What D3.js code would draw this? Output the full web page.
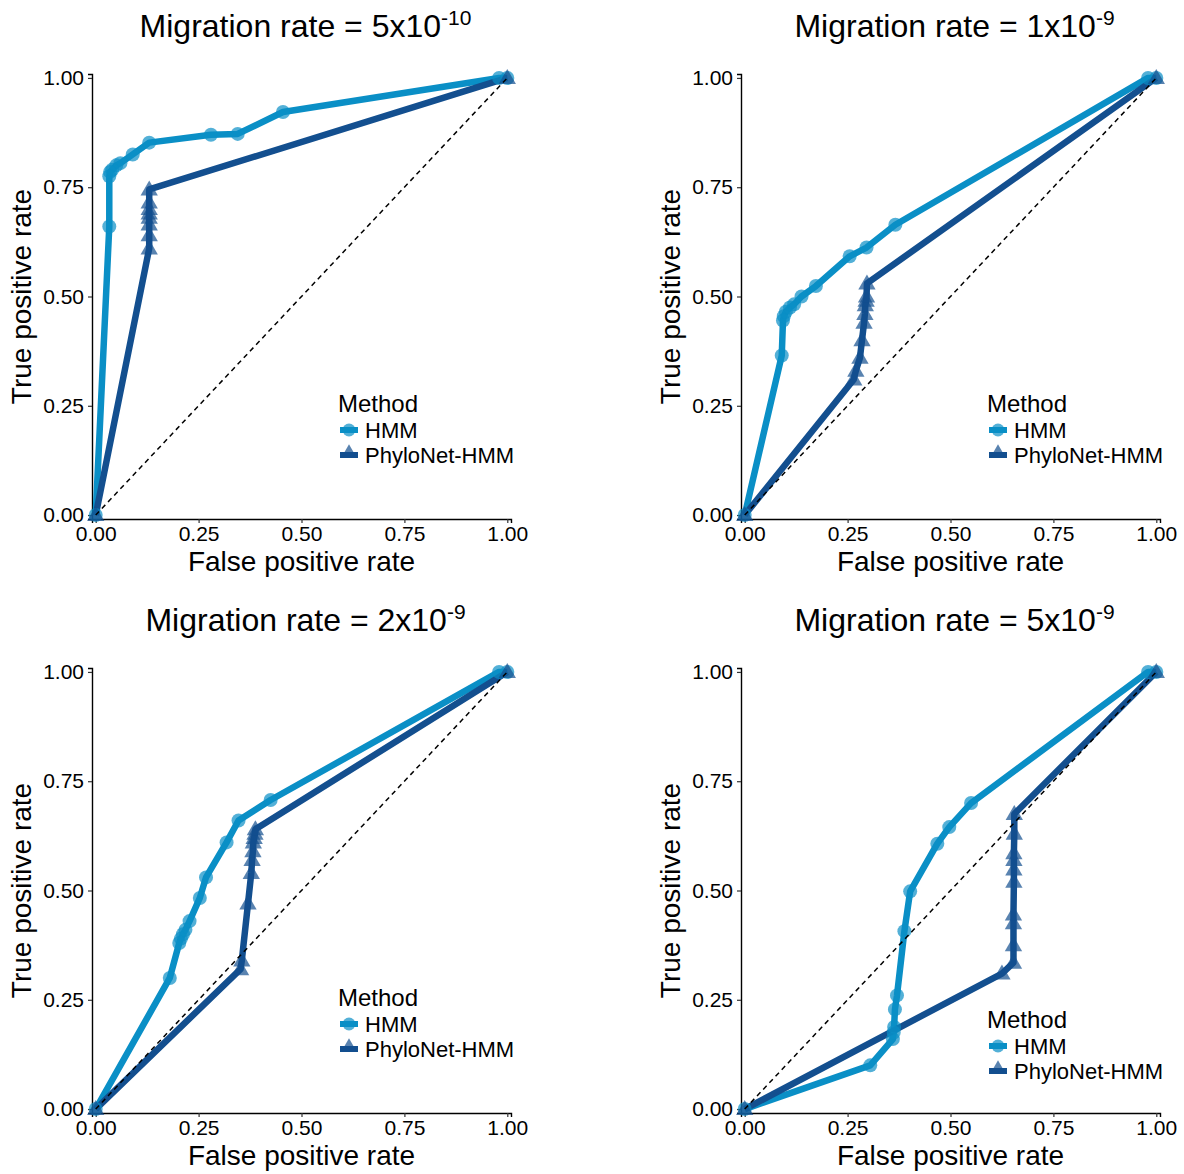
<!DOCTYPE html>
<html>
<head>
<meta charset="utf-8">
<script src="https://cdn.jsdelivr.net/npm/d3@7"></script>
<style>
  body { margin: 0; background: #fff; }
  svg text { font-family: "Liberation Sans", Arial, sans-serif; fill: #000; }
</style>
</head>
<body>
<div id="chart"></div>
<script>
// migration rate labels
const rateBase = ["5x10", "1x10", "2x10", "5x10"];
const rateExp = ["-10", "-9", "-9", "-9"];
const methods = ["HMM", "PhyloNet-HMM"];
const ticks = [0, 0.25, 0.5, 0.75, 1];

// 5x10^-10
const hmmFpr1 = [0, 0.033, 0.033, 0.035, 0.04, 0.05, 0.06, 0.09, 0.13, 0.28, 0.345, 0.455, 0.98, 1];
const hmmTpr1 = [0, 0.66, 0.775, 0.785, 0.79, 0.80, 0.805, 0.825, 0.852, 0.87, 0.872, 0.922, 1, 1];
const phyFpr1 = [0, 0.13, 0.13, 0.13, 0.13, 0.13, 0.13, 0.13, 0.13, 1];
const phyTpr1 = [0, 0.61, 0.64, 0.665, 0.68, 0.69, 0.70, 0.715, 0.745, 1];

// 1x10^-9
const hmmFpr2 = [0, 0.09, 0.093, 0.095, 0.10, 0.11, 0.12, 0.138, 0.173, 0.255, 0.296, 0.366, 0.98, 1];
const hmmTpr2 = [0, 0.365, 0.445, 0.455, 0.465, 0.475, 0.482, 0.50, 0.524, 0.592, 0.612, 0.664, 1, 1];
const phyFpr2 = [0, 0.265, 0.27, 0.28, 0.285, 0.29, 0.292, 0.293, 0.295, 0.296, 0.297, 1];
const phyTpr2 = [0, 0.31, 0.33, 0.36, 0.40, 0.44, 0.46, 0.48, 0.49, 0.50, 0.53, 1];

// 2x10^-9
const hmmFpr3 = [0, 0.18, 0.203, 0.207, 0.212, 0.218, 0.228, 0.253, 0.268, 0.318, 0.347, 0.425, 0.98, 1];
const hmmTpr3 = [0, 0.30, 0.38, 0.39, 0.40, 0.41, 0.43, 0.483, 0.53, 0.61, 0.66, 0.707, 1, 1];
const phyFpr3 = [0, 0.352, 0.355, 0.37, 0.378, 0.38, 0.382, 0.383, 0.385, 0.387, 0.388, 1];
const phyTpr3 = [0, 0.32, 0.34, 0.47, 0.54, 0.57, 0.59, 0.61, 0.62, 0.63, 0.64, 1];

// 5x10^-9
const hmmFpr4 = [0, 0.305, 0.36, 0.362, 0.363, 0.365, 0.37, 0.388, 0.402, 0.468, 0.497, 0.55, 0.98, 1];
const hmmTpr4 = [0, 0.10, 0.16, 0.175, 0.188, 0.228, 0.26, 0.407, 0.498, 0.607, 0.645, 0.70, 1, 1];
const phyFpr4 = [0, 0.625, 0.653, 0.653, 0.653, 0.653, 0.654, 0.654, 0.654, 0.654, 0.655, 0.655, 1];
const phyTpr4 = [0, 0.31, 0.335, 0.375, 0.425, 0.445, 0.52, 0.548, 0.57, 0.585, 0.63, 0.675, 1];

const zip = (xs, ys) => xs.map((x, i) => ({ x: x, y: ys[i] }));

const panels = [
  { hmm: zip(hmmFpr1, hmmTpr1), phy: zip(phyFpr1, phyTpr1), col: 0, row: 0, legendDy: 0 },
  { hmm: zip(hmmFpr2, hmmTpr2), phy: zip(phyFpr2, phyTpr2), col: 1, row: 0, legendDy: 0 },
  { hmm: zip(hmmFpr3, hmmTpr3), phy: zip(phyFpr3, phyTpr3), col: 0, row: 1, legendDy: 0 },
  { hmm: zip(hmmFpr4, hmmTpr4), phy: zip(phyFpr4, phyTpr4), col: 1, row: 1, legendDy: 22 }
];

const color = d3.scaleOrdinal().domain(methods).range(["#0a8fc6", "#134f8f"]);

const W = 1184, H = 1174;
const pw = 419, ph = 445;
const panelLeft = [92, 741], panelTop = [74, 668];

const svg = d3.select("#chart").append("svg")
  .attr("width", W)
  .attr("height", H);

const tri = d3.symbol().type(d3.symbolTriangle).size(130);
const triKey = d3.symbol().type(d3.symbolTriangle).size(100);

panels.forEach((p, i) => {
  const x0 = panelLeft[p.col], y0 = panelTop[p.row];
  const g = svg.append("g").attr("transform", "translate(" + x0 + "," + y0 + ")");

  const x = d3.scaleLinear().domain([-0.009, 1.009]).range([0, pw]);
  const y = d3.scaleLinear().domain([-0.009, 1.009]).range([ph, 0]);

  const fmt = d3.format(".2f");

  // axes
  const xAxis = g.append("g")
    .attr("transform", "translate(0," + ph + ")")
    .call(d3.axisBottom(x).tickValues(ticks).tickFormat(fmt).tickSizeOuter(0).tickSize(4).tickPadding(3));
  const yAxis = g.append("g")
    .call(d3.axisLeft(y).tickValues(ticks).tickFormat(fmt).tickSizeOuter(0).tickSize(4).tickPadding(4));
  [xAxis, yAxis].forEach(a => {
    a.select(".domain").attr("stroke", "#000").attr("stroke-width", 1.4);
    a.selectAll(".tick line").attr("stroke", "#333").attr("stroke-width", 1.2);
    a.selectAll(".tick text").style("font-size", "21px").attr("fill", "#000");
  });
  xAxis.selectAll(".tick text").attr("dy", "0.72em");

  // lines
  const line = d3.line().x(d => x(d.x)).y(d => y(d.y));
  g.append("path").datum(p.hmm)
    .attr("d", line).attr("fill", "none")
    .attr("stroke", color("HMM")).attr("stroke-width", 6.5).attr("stroke-linejoin", "round");
  g.append("path").datum(p.phy)
    .attr("d", line).attr("fill", "none")
    .attr("stroke", color("PhyloNet-HMM")).attr("stroke-width", 6.5).attr("stroke-linejoin", "round");

  // points
  g.selectAll(".pt-hmm").data(p.hmm).enter().append("circle")
    .attr("class", "pt-hmm")
    .attr("cx", d => x(d.x)).attr("cy", d => y(d.y)).attr("r", 7)
    .attr("fill", color("HMM")).attr("fill-opacity", 0.7);
  g.selectAll(".pt-phy").data(p.phy).enter().append("path")
    .attr("class", "pt-phy")
    .attr("d", tri)
    .attr("transform", d => "translate(" + x(d.x) + "," + (y(d.y) + 1) + ")")
    .attr("fill", color("PhyloNet-HMM")).attr("fill-opacity", 0.7);

  // diagonal
  g.append("line")
    .attr("x1", x(0)).attr("y1", y(0)).attr("x2", x(1)).attr("y2", y(1))
    .attr("stroke", "#000").attr("stroke-width", 1.5).attr("stroke-dasharray", "5,4");

  // title
  const t = g.append("text")
    .attr("x", pw / 2 + 4).attr("y", -37)
    .attr("text-anchor", "middle")
    .style("font-size", "32px");
  t.append("tspan").text("Migration rate = " + rateBase[i]);
  t.append("tspan").attr("dy", -12).style("font-size", "21px").text(rateExp[i]);

  // axis titles
  g.append("text")
    .attr("x", pw / 2).attr("y", ph + 52)
    .attr("text-anchor", "middle")
    .style("font-size", "28px")
    .text("False positive rate");
  g.append("text")
    .attr("transform", "translate(" + (-61) + "," + (ph / 2) + ") rotate(-90)")
    .attr("text-anchor", "middle")
    .style("font-size", "28px")
    .text("True positive rate");

  // legend
  const lg = g.append("g").attr("transform", "translate(246," + (338 + p.legendDy) + ")");
  lg.append("text").attr("x", 0).attr("y", 0).style("font-size", "24px").text("Method");
  methods.forEach((m, k) => {
    const row = lg.append("g").attr("transform", "translate(0," + (18 + k * 25) + ")");
    row.append("line").attr("x1", 2).attr("x2", 20).attr("y1", 0).attr("y2", 0)
      .attr("stroke", color(m)).attr("stroke-width", 6);
    if (k === 0) {
      row.append("circle").attr("cx", 11).attr("cy", 0).attr("r", 6.5)
        .attr("fill", color(m)).attr("fill-opacity", 0.7);
    } else {
      row.append("path").attr("d", triKey).attr("transform", "translate(11,-2)")
        .attr("fill", color(m)).attr("fill-opacity", 0.7);
    }
    row.append("text").attr("x", 27).attr("y", 8).style("font-size", "22px").text(m);
  });
});
</script>
</body>
</html>
